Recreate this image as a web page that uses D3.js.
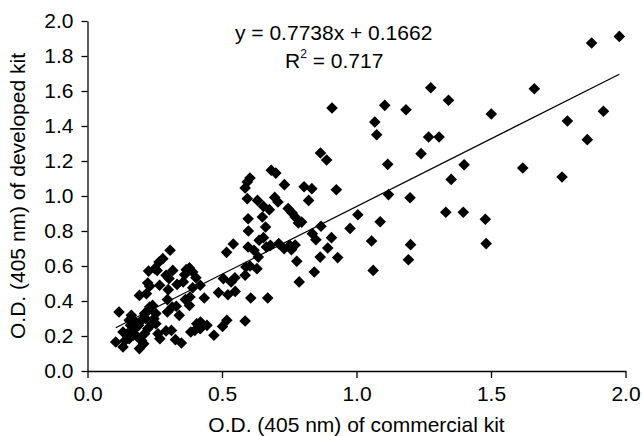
<!DOCTYPE html>
<html>
<head>
<meta charset="utf-8">
<script src="https://cdn.jsdelivr.net/npm/d3@7"></script>
<style>
  body { margin: 0; background: #fff; }
  svg { display: block; }
  text { font-family: 'Liberation Sans', Arial, sans-serif; fill: #000; }
</style>
</head>
<body>
<svg id="canvas" width="643" height="436"></svg>
<script>
// O.D. of commercial kit (x) vs developed kit (y)
let commercial = [
  1.977, 1.874, 1.918, 1.784, 1.858, 1.764, 1.618, 1.661, 1.501, 1.479, 1.482, 1.400, 1.397, 1.352,
  1.332, 1.342, 1.307, 1.276, 1.268, 1.240, 1.184, 1.199, 1.201, 1.193, 1.105, 1.068, 1.075, 1.116,
  1.119, 1.088, 1.056, 1.062, 1.005, 0.976, 0.909, 0.925, 0.930, 0.907, 0.893, 0.866, 0.889, 0.834,
  0.805, 0.822, 0.868, 0.865, 0.836, 0.849, 0.843, 0.787, 0.778, 0.784, 0.796,
  0.683, 0.700, 0.732, 0.604, 0.594, 0.586, 0.594, 0.632, 0.654, 0.676, 0.696, 0.708, 0.650, 0.662,
  0.597, 0.598, 0.746, 0.761, 0.772, 0.597, 0.619, 0.638, 0.654, 0.665, 0.635, 0.680, 0.711, 0.731,
  0.752, 0.772, 0.758, 0.630, 0.589, 0.604, 0.586, 0.607, 0.670, 0.586, 0.542, 0.517, 0.505, 0.548,
  0.534, 0.487, 0.522, 0.549, 0.502, 0.518, 0.470,
  0.434, 0.419, 0.403, 0.391, 0.379, 0.367, 0.361, 0.381, 0.379, 0.364, 0.391, 0.356, 0.333, 0.317,
  0.292, 0.307, 0.280, 0.266, 0.250, 0.227, 0.259, 0.231, 0.224, 0.219, 0.193, 0.268, 0.303, 0.300,
  0.297, 0.297, 0.315, 0.330, 0.341, 0.312, 0.292, 0.269, 0.262, 0.327, 0.349, 0.384, 0.399, 0.406,
  0.420, 0.444, 0.419, 0.254, 0.242, 0.231, 0.247, 0.240, 0.254, 0.224, 0.212, 0.201, 0.193, 0.209,
  0.186, 0.170, 0.160, 0.155, 0.163, 0.178, 0.190, 0.201, 0.170, 0.148, 0.132, 0.140, 0.155, 0.132,
  0.105, 0.117, 0.216, 0.212, 0.227
];
let developed = [
  1.912, 1.874, 1.484, 1.429, 1.322, 1.109, 1.160, 1.613, 1.469, 0.867, 0.728, 1.179, 0.907, 1.095,
  0.907, 1.547, 1.337, 1.619, 1.337, 1.242, 1.493, 0.990, 0.722, 0.636, 1.518, 1.423, 1.350, 1.181,
  1.008, 0.853, 0.743, 0.575, 0.893, 0.815, 1.503, 1.036, 0.648, 0.762, 0.703, 1.246, 1.206, 1.042,
  1.053, 0.975, 0.827, 0.651, 0.785, 0.750, 0.566, 0.509, 0.627, 0.846, 0.851,
  1.147, 1.131, 1.065, 1.103, 1.080, 1.046, 0.985, 0.975, 0.941, 0.922, 0.992, 0.966, 0.880, 0.823,
  0.870, 0.800, 0.928, 0.903, 0.880, 0.709, 0.690, 0.747, 0.762, 0.709, 0.651, 0.718, 0.728, 0.699,
  0.718, 0.720, 0.693, 0.585, 0.594, 0.600, 0.547, 0.417, 0.417, 0.286, 0.726, 0.678, 0.528, 0.533,
  0.509, 0.448, 0.436, 0.455, 0.255, 0.290, 0.204,
  0.417, 0.490, 0.533, 0.566, 0.589, 0.579, 0.550, 0.423, 0.375, 0.408, 0.476, 0.509, 0.495, 0.575,
  0.547, 0.690, 0.642, 0.623, 0.585, 0.571, 0.575, 0.484, 0.503, 0.442, 0.432, 0.490, 0.528, 0.465,
  0.408, 0.337, 0.366, 0.370, 0.318, 0.232, 0.229, 0.185, 0.213, 0.179, 0.160, 0.223, 0.232, 0.270,
  0.280, 0.261, 0.242, 0.328, 0.375, 0.366, 0.299, 0.270, 0.270, 0.242, 0.213, 0.175, 0.128, 0.156,
  0.194, 0.232, 0.261, 0.290, 0.318, 0.280, 0.261, 0.290, 0.204, 0.213, 0.223, 0.175, 0.185, 0.137,
  0.166, 0.337, 0.299, 0.328, 0.347
];

let xTicks = [0, 0.5, 1.0, 1.5, 2.0];
let yTicks = [0, 0.2, 0.4, 0.6, 0.8, 1.0, 1.2, 1.4, 1.6, 1.8, 2.0];

let slope = 0.7738;
let intercept = 0.1662;
let equationLabel = 'y = 0.7738x + 0.1662';
let rSquaredValue = '0.717';

let xTitle = 'O.D. (405 nm) of commercial kit';
let yTitle = 'O.D. (405 nm) of developed kit';

let canvas = d3.select('#canvas');

let xScale = d3.scaleLinear().domain([0, 2]).range([87.5, 625.5]);
let yScale = d3.scaleLinear().domain([0, 2]).range([371, 21]);

let points = commercial.map((c, i) => ({ x: c, y: developed[i] }));

let drawChart = () => {
	let xAxis = d3.axisBottom(xScale)
		.tickValues(xTicks)
		.tickFormat(d3.format('.1f'))
		.tickSize(7)
		.tickSizeOuter(0)
		.tickPadding(8);

	let yAxis = d3.axisLeft(yScale)
		.tickValues(yTicks)
		.tickFormat(d3.format('.1f'))
		.tickSize(6)
		.tickSizeOuter(0)
		.tickPadding(8);

	let gx = canvas.append('g')
		.attr('transform', 'translate(0,' + yScale(0) + ')')
		.call(xAxis);

	let gy = canvas.append('g')
		.attr('transform', 'translate(' + xScale(0) + ',0)')
		.call(yAxis);

	[gx, gy].forEach((g) => {
		g.selectAll('path, line').attr('stroke', '#000').attr('stroke-width', 1.3);
		g.selectAll('text')
			.style('font-family', "'Liberation Sans', Arial, sans-serif")
			.style('font-size', '21px')
			.attr('fill', '#000');
	});

	// trendline over the range of the data
	let xMin = d3.min(commercial);
	let xMax = d3.max(commercial);
	canvas.append('line')
		.attr('x1', xScale(xMin))
		.attr('y1', yScale(slope * xMin + intercept))
		.attr('x2', xScale(xMax))
		.attr('y2', yScale(slope * xMax + intercept))
		.attr('stroke', '#000')
		.attr('stroke-width', 1.2);

	canvas.selectAll('path.pt')
		.data(points)
		.enter()
		.append('path')
		.attr('class', 'pt')
		.attr('d', 'M0,-5.8L5.8,0L0,5.8L-5.8,0Z')
		.attr('fill', '#000')
		.attr('transform', (d) => 'translate(' + xScale(d.x) + ',' + yScale(d.y) + ')');

	// regression label
	canvas.append('text')
		.attr('x', 235)
		.attr('y', 40)
		.style('font-size', '21px')
		.text(equationLabel);

	let r2 = canvas.append('text')
		.attr('x', 285)
		.attr('y', 68)
		.style('font-size', '21px');
	r2.append('tspan').text('R');
	r2.append('tspan').attr('dy', -10).style('font-size', '12px').text('2');
	r2.append('tspan').attr('dy', 10).text(' = ' + rSquaredValue);

	// axis titles
	canvas.append('text')
		.attr('x', (xScale(0) + xScale(2)) / 2)
		.attr('y', 432)
		.attr('text-anchor', 'middle')
		.style('font-size', '21px')
		.text(xTitle);

	canvas.append('text')
		.attr('transform', 'translate(25,' + (yScale(0) + yScale(2)) / 2 + ') rotate(-90)')
		.attr('text-anchor', 'middle')
		.style('font-size', '21px')
		.text(yTitle);
};

drawChart();
</script>
</body>
</html>
